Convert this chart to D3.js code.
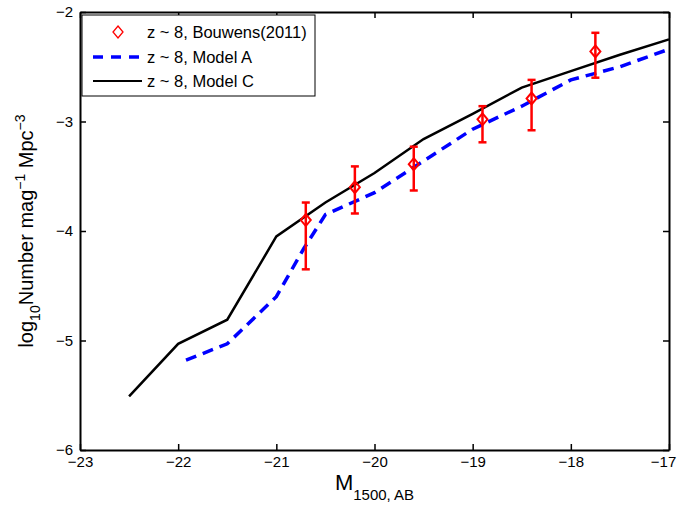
<!DOCTYPE html>
<html>
<head>
<meta charset="utf-8">
<script src="https://cdn.jsdelivr.net/npm/d3@7"></script>
<style>
  body { margin: 0; background: #fff; }
  svg text { font-family: "Liberation Sans", Arial, sans-serif; }
</style>
</head>
<body>
<div id="chart"></div>
<script>
// observed points, Bouwens (2011), z ~ 8
const obsMag = [-20.70, -20.20, -19.60, -18.90, -18.40, -17.75];
const obsVal = [-3.90, -3.60, -3.39, -2.98, -2.79, -2.36];
const obsHi = [-3.74, -3.41, -3.23, -2.86, -2.62, -2.19];
const obsLo = [-4.35, -3.84, -3.63, -3.19, -3.08, -2.60];

// model A (dashed blue)
const modelAMag = [-21.92, -21.5, -21.0, -20.72, -20.5, -20.0, -19.5, -19.0, -18.5, -18.0, -17.5, -17.0];
const modelAVal = [-5.18, -5.03, -4.60, -4.16, -3.85, -3.65, -3.36, -3.07, -2.86, -2.62, -2.50, -2.34];

// model C (solid black)
const modelCMag = [-22.5, -22.0, -21.5, -21.0, -20.5, -20.0, -19.5, -19.0, -18.5, -18.0, -17.5, -17.0];
const modelCVal = [-5.51, -5.03, -4.81, -4.05, -3.74, -3.47, -3.16, -2.93, -2.69, -2.54, -2.39, -2.25];

const xTicks = [-23, -22, -21, -20, -19, -18, -17];
const yTicks = [-6, -5, -4, -3, -2];
const legendLabels = ['z ~ 8, Bouwens(2011)', 'z ~ 8, Model A', 'z ~ 8, Model C'];

const W = 679, H = 508;
const margin = { top: 12, right: 10, bottom: 58, left: 80 };
const width = W - margin.left - margin.right,
  height = H - margin.top - margin.bottom;

const fmt = (d) => String(d).replace('-', '\u2212');

const svg = d3.select('#chart')
  .append('svg')
    .attr('width', W)
    .attr('height', H)
  .append('g')
    .attr('transform', 'translate(' + margin.left + ',' + margin.top + ')');

const x = d3.scaleLinear().domain([-23, -17]).range([0, width]);
const y = d3.scaleLinear().domain([-6, -2]).range([height, 0]);

const tickLen = 6;

// axes with inward ticks, box on
const axBottom = svg.append('g')
  .attr('transform', 'translate(0,' + height + ')')
  .call(d3.axisBottom(x).tickValues(xTicks).tickFormat(fmt).tickSizeInner(-tickLen).tickSizeOuter(0).tickPadding(8));
const axTop = svg.append('g')
  .call(d3.axisTop(x).tickValues(xTicks).tickFormat('').tickSizeInner(-tickLen).tickSizeOuter(0));
const axLeft = svg.append('g')
  .call(d3.axisLeft(y).tickValues(yTicks).tickFormat(fmt).tickSizeInner(-tickLen).tickSizeOuter(0).tickPadding(7));
const axRight = svg.append('g')
  .attr('transform', 'translate(' + width + ',0)')
  .call(d3.axisRight(y).tickValues(yTicks).tickFormat('').tickSizeInner(-tickLen).tickSizeOuter(0));

[axBottom, axTop, axLeft, axRight].forEach((a) => {
  a.select('.domain').attr('stroke', '#000').attr('stroke-width', 2);
  a.selectAll('.tick line').attr('stroke', '#000').attr('stroke-width', 1.5);
  a.selectAll('.tick text').attr('font-size', 15).attr('fill', '#000');
});
axBottom.selectAll('.tick text').attr('dy', '0.6em');
axBottom.selectAll('.tick text').filter((d) => d === -17).attr('x', -6);
axLeft.selectAll('.tick text').attr('dy', '0.3em');

const line = d3.line()
  .x((d) => x(d[0]))
  .y((d) => y(d[1]));

svg.append('path')
  .datum(modelCMag.map((m, i) => [m, modelCVal[i]]))
  .attr('d', line)
  .attr('fill', 'none')
  .attr('stroke', '#000')
  .attr('stroke-width', 2.5);

svg.append('path')
  .datum(modelAMag.map((m, i) => [m, modelAVal[i]]))
  .attr('d', line)
  .attr('fill', 'none')
  .attr('stroke', '#0000ff')
  .attr('stroke-width', 3.5)
  .attr('stroke-dasharray', '11,7');

// error bars
const obs = obsMag.map((m, i) => ({ m: m, v: obsVal[i], hi: obsHi[i], lo: obsLo[i] }));
const capW = 4;
const eb = svg.selectAll('.errbar')
  .data(obs)
  .enter()
  .append('g')
    .attr('class', 'errbar')
    .attr('stroke', '#ff0000')
    .attr('stroke-width', 2.5)
    .attr('fill', 'none');

eb.append('line')
  .attr('x1', (d) => x(d.m)).attr('x2', (d) => x(d.m))
  .attr('y1', (d) => y(d.hi)).attr('y2', (d) => y(d.lo));
eb.append('line')
  .attr('x1', (d) => x(d.m) - capW).attr('x2', (d) => x(d.m) + capW)
  .attr('y1', (d) => y(d.hi)).attr('y2', (d) => y(d.hi));
eb.append('line')
  .attr('x1', (d) => x(d.m) - capW).attr('x2', (d) => x(d.m) + capW)
  .attr('y1', (d) => y(d.lo)).attr('y2', (d) => y(d.lo));

const diamond = (cx, cy) => 'M' + cx + ',' + (cy - 6) + 'L' + (cx + 5) + ',' + cy +
  'L' + cx + ',' + (cy + 6) + 'L' + (cx - 5) + ',' + cy + 'Z';

eb.append('path')
  .attr('d', (d) => diamond(x(d.m), y(d.v)))
  .attr('stroke-width', 2);

// axis labels
const xl = svg.append('text')
  .attr('x', width / 2)
  .attr('y', height + 40)
  .attr('text-anchor', 'middle')
  .attr('fill', '#000');
xl.append('tspan').attr('font-size', 22).text('M');
xl.append('tspan').attr('font-size', 15).attr('dy', 10).text('1500, AB');

const yl = svg.append('text')
  .attr('transform', 'translate(-47,' + (height / 2) + ') rotate(-90)')
  .attr('text-anchor', 'middle')
  .attr('fill', '#000')
  .attr('font-size', 20);
yl.append('tspan').text('log');
yl.append('tspan').attr('font-size', 14).attr('dy', 7).text('10');
yl.append('tspan').attr('dy', -7).text('Number mag');
yl.append('tspan').attr('font-size', 14).attr('dy', -8).text('\u22121');
yl.append('tspan').attr('dy', 8).text(' Mpc');
yl.append('tspan').attr('font-size', 14).attr('dy', -8).text('\u22123');

// legend
const lg = svg.append('g').attr('transform', 'translate(2,3)');
lg.append('rect')
  .attr('width', 233)
  .attr('height', 81)
  .attr('fill', '#fff')
  .attr('stroke', '#000')
  .attr('stroke-width', 1);

const rowY = [17, 42, 66];
lg.append('path')
  .attr('d', diamond(36, rowY[0]))
  .attr('fill', 'none')
  .attr('stroke', '#ff0000')
  .attr('stroke-width', 1.3);
lg.append('line')
  .attr('x1', 11).attr('x2', 60).attr('y1', rowY[1]).attr('y2', rowY[1])
  .attr('stroke', '#0000ff').attr('stroke-width', 3.5).attr('stroke-dasharray', '10,8');
lg.append('line')
  .attr('x1', 11).attr('x2', 60).attr('y1', rowY[2]).attr('y2', rowY[2])
  .attr('stroke', '#000').attr('stroke-width', 2);

lg.selectAll('.legend-label')
  .data(legendLabels)
  .enter()
  .append('text')
    .attr('x', 65)
    .attr('y', (d, i) => rowY[i])
    .attr('dy', '0.35em')
    .attr('font-size', 16.5)
    .attr('fill', '#000')
    .text((d) => d);
</script>
</body>
</html>
